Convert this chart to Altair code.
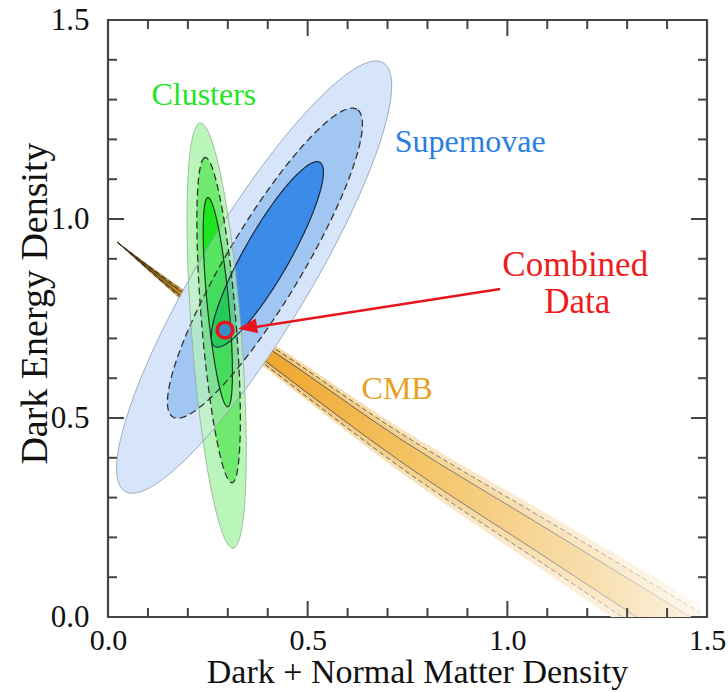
import numpy as np
import pandas as pd
import altair as alt

# ---------------- values ----------------
# confidence ellipses (outer, middle/dashed, inner): centre, semi-axes, tilt in degrees
sn_cx = [0.366, 0.393, 0.399]
sn_cy = [0.854, 0.889, 0.911]
sn_a = [0.628, 0.450, 0.266]
sn_b = [0.138, 0.094, 0.057]
sn_tilt = [59.0, 59.2, 60.4]

cl_cx = [0.272, 0.277, 0.275]
cl_cy = [0.707, 0.746, 0.791]
cl_a = [0.536, 0.410, 0.264]
cl_b = [0.062, 0.043, 0.027]
cl_tilt = [94.4, 94.7, 95.4]

# CMB band: centre line and vertical half-widths of its three levels
cmb_x = [0.023, 0.230, 0.381, 0.731, 1.107, 1.483]
cmb_y = [0.942, 0.776, 0.671, 0.420, 0.180, -0.060]
cmb_hw_outer = [0.0, 0.020, 0.035, 0.055, 0.075, 0.092]
cmb_hw_dash = [0.0, 0.014, 0.027, 0.043, 0.058, 0.071]
cmb_hw_solid = [0.0, 0.008, 0.018, 0.028, 0.037, 0.045]

# combined best fit and the arrow pointing at it
comb_x = [0.293]
comb_y = [0.721]
arrow_x = [0.982, 0.36]
arrow_y = [0.824, 0.727]
head_x = [0.326]
head_y = [0.724]

labels = ["Clusters", "Supernovae", "CMB", "Combined", "Data"]
label_x = [0.240, 0.907, 0.724, 1.170, 1.175]
label_y = [1.286, 1.168, 0.548, 0.857, 0.764]

major_ticks = [0.0, 0.5, 1.0, 1.5]
minor_ticks = [0.1, 0.2, 0.3, 0.4, 0.6, 0.7, 0.8, 0.9, 1.1, 1.2, 1.3, 1.4]

# ---------------- styles ----------------
W, H = 599, 597
SERIF = "Liberation Serif"
label_colors = ["#22e622", "#2a7fe2", "#e6a122", "#ee1c1c", "#ee1c1c"]
label_sizes = [32, 32, 32, 35, 35]
sn_fill = ["#d6e6f9", "#a2c6f2", "#3b8ce9"]
cl_fill = ["#baf5ba", "#6fea6f", "#1ee61e"]
sn_line = [("#8a9bb0", 0.8, None), ("#333333", 1.3, [7, 4]), ("#1a2a40", 1.2, None)]
cl_line = [("#8fae8f", 0.8, None), ("#333333", 1.3, [7, 4]), ("#1a3a1a", 1.2, None)]
RED = "#e8141c"

xs = alt.Scale(domain=[0, 1.5], nice=False, zero=False)
ys = alt.Scale(domain=[0, 1.5], nice=False, zero=False)

xaxis = alt.Axis(values=major_ticks, format=".1f", ticks=False, tickSize=0, domain=False,
                 grid=False, labelFont=SERIF, labelFontSize=30, labelColor="#111",
                 labelPadding=8, labelFlush=False,
                 title="Dark + Normal Matter Density", titleFont=SERIF, titleFontSize=34,
                 titleFontWeight="normal", titleColor="#111", titleX=309, titleY=65,
                 titleBaseline="alphabetic", titleAlign="center")
yaxis = alt.Axis(values=major_ticks, format=".1f", ticks=False, tickSize=0, domain=False,
                 grid=False, labelFont=SERIF, labelFontSize=31, labelColor="#111",
                 labelPadding=19, labelFlush=False,
                 title="Dark Energy Density", titleFont=SERIF, titleFontSize=38,
                 titleFontWeight="normal", titleColor="#111", titleAngle=270,
                 titleX=-62, titleY=283, titleBaseline="alphabetic", titleAlign="center")


def X(field):
    return alt.X(field, type="quantitative", scale=xs, axis=xaxis)


def Y(field):
    return alt.Y(field, type="quantitative", scale=ys, axis=yaxis)


def ellipse(cx, cy, a, b, tilt, n=181):
    t = np.linspace(0, 2 * np.pi, n)
    p = np.radians(tilt)
    x = cx + a * np.cos(t) * np.cos(p) - b * np.sin(t) * np.sin(p)
    y = cy + a * np.cos(t) * np.sin(p) + b * np.sin(t) * np.cos(p)
    return x, y


def ell_df(par, k):
    x, y = ellipse(*[p[k] for p in par])
    return pd.DataFrame({"x": x, "y": y, "i": np.arange(len(x))})


def ring_df(par, k):
    xo, yo = ellipse(*[p[k] for p in par])
    if k + 1 < len(par[0]):
        xi, yi = ellipse(*[p[k + 1] for p in par])
        x = np.concatenate([xo, xi[::-1]])
        y = np.concatenate([yo, yi[::-1]])
    else:
        x, y = xo, yo
    return pd.DataFrame({"x": x, "y": y, "i": np.arange(len(x))})


sn_par = [sn_cx, sn_cy, sn_a, sn_b, sn_tilt]
cl_par = [cl_cx, cl_cy, cl_a, cl_b, cl_tilt]

layers = []

# ---- CMB band ----
cx_ = np.array(cmb_x)
cy_ = np.array(cmb_y)
cmb = pd.DataFrame({
    "x": cx_,
    "o_lo": cy_ - np.array(cmb_hw_outer), "o_hi": cy_ + np.array(cmb_hw_outer),
    "d_lo": cy_ - np.array(cmb_hw_dash), "d_hi": cy_ + np.array(cmb_hw_dash),
    "s_lo": cy_ - np.array(cmb_hw_solid), "s_hi": cy_ + np.array(cmb_hw_solid),
})


def grad(stops):
    return alt.Gradient(gradient="linear", x1=0, x2=1, y1=0, y2=0,
                        stops=[alt.GradientStop(offset=o, color=c) for o, c in stops])


outer_g = grad([(0, "#8a6420"), (0.13, "#e8c078"), (0.25, "#f6d79a"), (0.5, "#f9e2ba"),
                (0.8, "#fcefd8"), (1, "#fffaf3")])
mid_g = grad([(0, "#7a5616"), (0.13, "#e3ad4c"), (0.25, "#f3c470"), (0.5, "#f6d28e"),
              (0.8, "#fae6c2"), (1, "#fef7ec")])
inner_g = grad([(0, "#6e4a10"), (0.13, "#d9951f"), (0.25, "#efa62c"), (0.5, "#f4c262"),
                (0.8, "#f8ddaa"), (1, "#fdf3e2")])
line_g = grad([(0, "#3a2a10"), (0.3, "#555555"), (0.7, "#8a8a8a"), (1, "#dddddd")])

base_cmb = alt.Chart(cmb)
layers.append(base_cmb.mark_area(color=outer_g, interpolate="monotone", clip=True)
              .encode(x=X("x"), y=Y("o_lo"), y2="o_hi"))
layers.append(base_cmb.mark_area(color=mid_g, interpolate="monotone", clip=True)
              .encode(x=X("x"), y=Y("d_lo"), y2="d_hi"))
layers.append(base_cmb.mark_area(color=inner_g, interpolate="monotone", clip=True)
              .encode(x=X("x"), y=Y("s_lo"), y2="s_hi"))
for f in ["d_lo", "d_hi"]:
    layers.append(base_cmb.mark_line(stroke=line_g, strokeWidth=1, strokeDash=[5, 3],
                                     interpolate="monotone", clip=True)
                  .encode(x=X("x"), y=Y(f)))
for f in ["s_lo", "s_hi"]:
    layers.append(base_cmb.mark_line(stroke=line_g, strokeWidth=1,
                                     interpolate="monotone", clip=True)
                  .encode(x=X("x"), y=Y(f)))

# ---- opaque supernova fills ----
for k in range(3):
    layers.append(alt.Chart(ell_df(sn_par, k)).mark_line(fill=sn_fill[k], strokeOpacity=0)
                  .encode(x=X("x"), y=Y("y"), order="i:Q"))
# ---- cluster fills ----
for k in range(3):
    layers.append(alt.Chart(ell_df(cl_par, k)).mark_line(fill=cl_fill[k], strokeOpacity=0)
                  .encode(x=X("x"), y=Y("y"), order="i:Q"))
# ---- supernova rings again, translucent, so overlaps mix ----
for k in range(3):
    layers.append(alt.Chart(ring_df(sn_par, k)).mark_line(fill=sn_fill[k], fillOpacity=0.3,
                                                          strokeOpacity=0)
                  .encode(x=X("x"), y=Y("y"), order="i:Q"))
# ---- outlines ----
for par, styles in [(sn_par, sn_line), (cl_par, cl_line)]:
    for k in range(3):
        col, wd, dash = styles[k]
        kw = dict(stroke=col, strokeWidth=wd)
        if dash:
            kw["strokeDash"] = dash
        layers.append(alt.Chart(ell_df(par, k)).mark_line(**kw)
                      .encode(x=X("x"), y=Y("y"), order="i:Q"))

# ---- combined data circle and arrow ----
arrow = pd.DataFrame({"x": arrow_x, "y": arrow_y})
layers.append(alt.Chart(arrow).mark_line(color=RED, strokeWidth=2.5)
              .encode(x=X("x"), y=Y("y")))
layers.append(alt.Chart(pd.DataFrame({"x": head_x, "y": head_y}))
              .mark_point(shape="M0,0L0.75,1.9L-0.75,1.9Z", size=400, angle=261,
                          filled=True, color=RED, opacity=1)
              .encode(x=X("x"), y=Y("y")))
layers.append(alt.Chart(pd.DataFrame({"x": comb_x, "y": comb_y}))
              .mark_circle(size=250, fill="#3a86d6", fillOpacity=0.85, stroke=RED,
                           strokeWidth=3.5, strokeOpacity=1)
              .encode(x=X("x"), y=Y("y")))

# ---- labels ----
for t, lx, ly, c, s in zip(labels, label_x, label_y, label_colors, label_sizes):
    layers.append(alt.Chart(pd.DataFrame({"x": [lx], "y": [ly], "t": [t]}))
                  .mark_text(font=SERIF, fontSize=s, color=c, align="center",
                             baseline="alphabetic")
                  .encode(x=X("x"), y=Y("y"), text="t:N"))

# ---- inward ticks on all four sides ----
TICK = "#444444"
for vals, L in [(major_ticks, 16), (minor_ticks, 9)]:
    td = alt.Chart(pd.DataFrame({"v": vals}))
    layers.append(td.mark_rule(color=TICK, strokeWidth=2)
                  .encode(x=X("v"), y=alt.value(H), y2=alt.value(H - L)))
    layers.append(td.mark_rule(color=TICK, strokeWidth=2)
                  .encode(x=X("v"), y=alt.value(0), y2=alt.value(L)))
    layers.append(td.mark_rule(color=TICK, strokeWidth=2)
                  .encode(y=Y("v"), x=alt.value(0), x2=alt.value(L)))
    layers.append(td.mark_rule(color=TICK, strokeWidth=2)
                  .encode(y=Y("v"), x=alt.value(W), x2=alt.value(W - L)))

chart = (alt.layer(*layers)
         .properties(width=W, height=H, autosize=alt.AutoSizeParams(type="none"),
                     padding={"left": 108, "top": 20, "right": 21, "bottom": 75},
                     background="white")
         .configure_view(stroke="#444444", strokeWidth=2.2))

chart.save("out.html", embed_options={"renderer": "svg", "actions": False})
